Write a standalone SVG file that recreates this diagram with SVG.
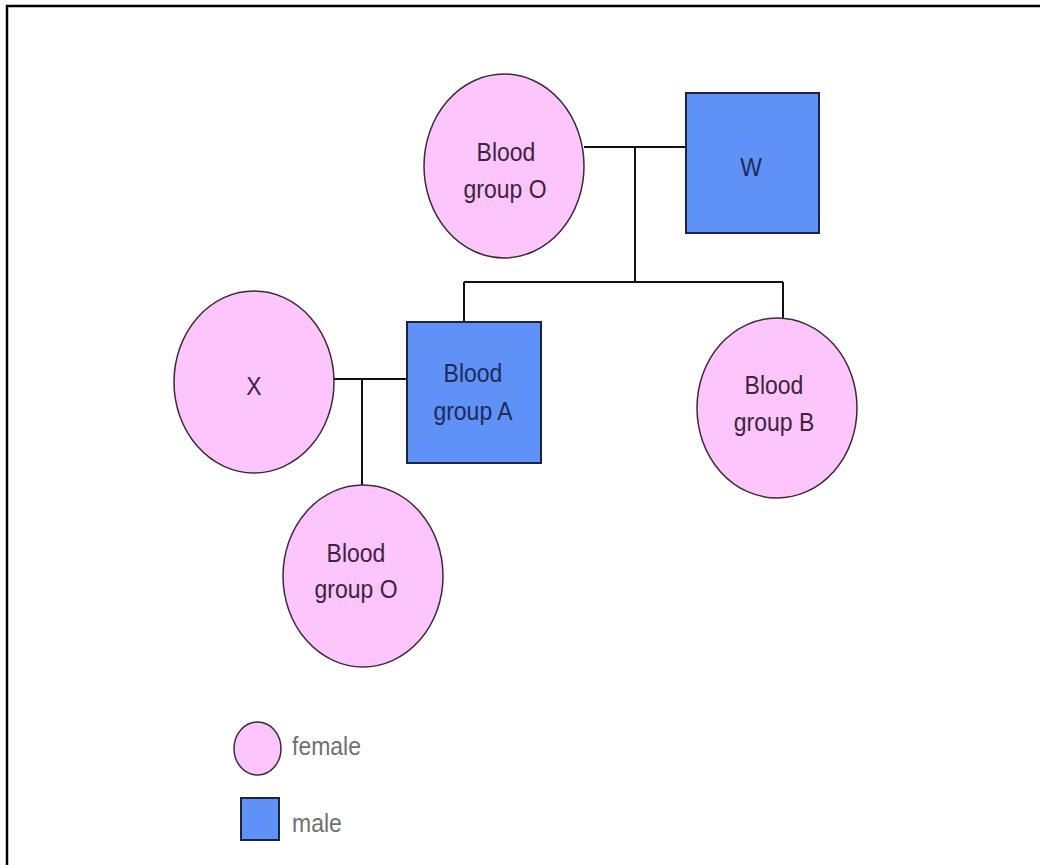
<svg xmlns="http://www.w3.org/2000/svg" width="1040" height="865" viewBox="0 0 1040 865">
  <style>
    .female { fill: #fcc6fc; stroke: #3e2a3a; stroke-width: 1.5; }
    .male { fill: #5f91f7; stroke: #1b2440; stroke-width: 2; }
    .link { fill: none; stroke: #111; stroke-width: 2; }
    .lbl { font-family: "Liberation Sans", Arial, sans-serif; font-size: 23px; text-anchor: middle; }
    .lf { fill: #3e2440; }
    .lm { fill: #1c2b5a; }
    .key { font-family: "Liberation Sans", Arial, sans-serif; font-size: 23px; fill: #707070; }
  </style>

  <rect x="0" y="0" width="1040" height="865" fill="#ffffff"/>
  <!-- frame -->
  <path d="M7,865 V6 H1040" fill="none" stroke="#000" stroke-width="2.5"/>

  <g id="connectors">
    <path class="link" d="M584,147 H686"/>
    <path class="link" d="M635,147 V282"/>
    <path class="link" d="M464,282 H783"/>
    <path class="link" d="M464,282 V322"/>
    <path class="link" d="M783,282 V319"/>
    <path class="link" d="M333,379 H407"/>
    <path class="link" d="M362,379 V485"/>
  </g>

  <!-- labels use a slightly tall letterform: scale(1,1.15) about the baseline -->
  <g id="mother">
    <ellipse class="female" cx="504" cy="166" rx="80" ry="92"/>
    <text class="lbl lf" transform="translate(506 161) scale(1 1.15)">Blood</text>
    <text class="lbl lf" transform="translate(505 198) scale(1 1.15)">group O</text>
  </g>

  <g id="w">
    <rect class="male" x="686" y="93" width="133" height="140"/>
    <text class="lbl lm" transform="translate(751 176) scale(1 1.15)">W</text>
  </g>

  <g id="x">
    <ellipse class="female" cx="254" cy="382" rx="80" ry="91"/>
    <text class="lbl lf" transform="translate(254 395) scale(1 1.15)">X</text>
  </g>

  <g id="son">
    <rect class="male" x="407" y="322" width="134" height="141"/>
    <text class="lbl lm" transform="translate(473 382) scale(1 1.15)">Blood</text>
    <text class="lbl lm" transform="translate(473 420) scale(1 1.15)">group A</text>
  </g>

  <g id="daughter">
    <ellipse class="female" cx="777" cy="408" rx="80" ry="90"/>
    <text class="lbl lf" transform="translate(774 394) scale(1 1.15)">Blood</text>
    <text class="lbl lf" transform="translate(774 431) scale(1 1.15)">group B</text>
  </g>

  <g id="grandchild">
    <ellipse class="female" cx="363" cy="576" rx="80" ry="91"/>
    <text class="lbl lf" transform="translate(356 562) scale(1 1.15)">Blood</text>
    <text class="lbl lf" transform="translate(356 598) scale(1 1.15)">group O</text>
  </g>

  <g id="legend">
    <ellipse class="female" cx="257.5" cy="748.5" rx="23.5" ry="26.5"/>
    <text class="key" transform="translate(292 755) scale(1 1.15)">female</text>
    <rect class="male" x="241" y="798" width="38" height="42"/>
    <text class="key" transform="translate(292 832) scale(1 1.15)">male</text>
  </g>
</svg>
